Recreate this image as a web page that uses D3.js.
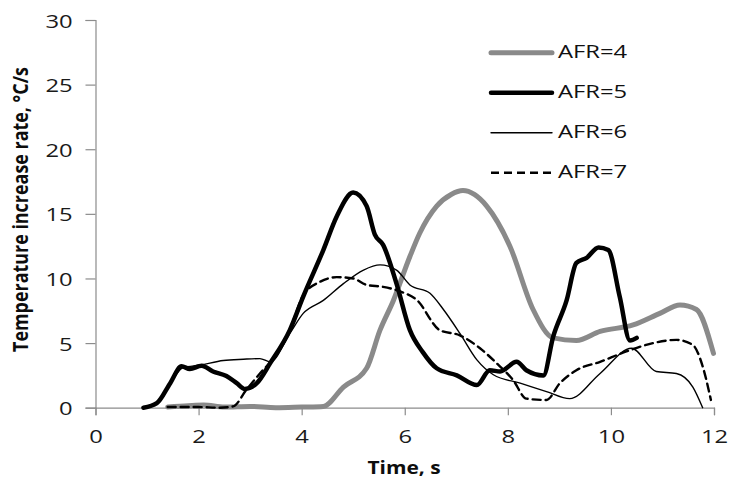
<!DOCTYPE html>
<html>
<head>
<meta charset="utf-8">
<script src="https://cdn.jsdelivr.net/npm/d3@7"></script>
<style>
  html, body { margin: 0; padding: 0; background: #fff; }
  svg { display: block; }
  .tick text { font-family: "Open Sans", sans-serif; font-size: 17.5px; fill: #1a1a1a; }
  .axis-title { font-family: "Open Sans", sans-serif; font-weight: bold; fill: #0d0d0d; }
  .legend text { font-family: "Open Sans", sans-serif; font-size: 17.5px; fill: #111; }
</style>
</head>
<body>
<svg id="chart" width="734" height="484"></svg>
<script>
// Heating rate curves for four air-fuel ratios: [time (s), rate (°C/s)]
const afr4 = [
  [1.4, 0.05], [1.8, 0.15], [2.1, 0.2], [2.5, 0.05], [3.0, 0.1], [3.5, 0.0], [4.0, 0.05], [4.42, 0.1],
  [4.81, 1.6], [5.26, 3.05], [5.52, 6.0], [5.78, 8.3], [6.1, 11.7], [6.29, 13.5], [6.62, 15.6],
  [6.9, 16.5], [7.13, 16.8], [7.35, 16.5], [7.59, 15.6], [8.04, 12.5], [8.49, 7.6], [8.88, 5.4],
  [9.33, 5.2], [9.79, 5.9], [10.43, 6.4], [10.95, 7.3], [11.34, 7.95], [11.66, 7.6], [11.99, 4.2]
];
const afr5 = [
  [0.93, 0.0], [1.19, 0.35], [1.45, 1.9], [1.67, 3.2], [1.83, 3.0], [2.06, 3.25], [2.28, 2.8],
  [2.54, 2.45], [2.74, 1.9], [2.9, 1.45], [3.13, 1.9], [3.39, 3.45], [3.77, 6.0], [4.03, 8.6],
  [4.42, 12.2], [4.68, 14.8], [5.0, 16.65], [5.26, 15.6], [5.42, 13.4], [5.58, 12.6], [5.84, 9.6],
  [6.1, 6.0], [6.35, 4.3], [6.62, 3.05], [7.01, 2.5], [7.4, 1.75], [7.65, 2.9], [7.85, 2.8],
  [8.17, 3.55], [8.36, 2.9], [8.69, 2.5], [8.88, 5.5], [9.14, 8.3], [9.33, 11.2], [9.53, 11.6],
  [9.76, 12.4], [9.95, 12.2], [10.17, 8.6], [10.37, 5.2], [10.5, 5.4]
];
const afr6 = [
  [0.95, 0.0], [1.2, 0.4], [1.45, 1.9], [1.7, 3.1], [2.03, 3.3], [2.48, 3.65], [2.87, 3.75],
  [3.19, 3.8], [3.39, 3.55], [3.77, 5.75], [4.03, 7.3], [4.42, 8.3], [4.81, 9.6], [5.2, 10.65],
  [5.52, 11.05], [5.84, 10.65], [6.1, 9.5], [6.49, 8.85], [6.75, 7.6], [7.07, 5.75], [7.4, 3.7],
  [7.72, 2.55], [8.24, 1.9], [8.75, 1.25], [9.2, 0.7], [9.79, 2.65], [10.4, 4.6], [10.88, 2.8],
  [11.27, 2.65], [11.59, 1.6], [11.78, 0.0]
];
const afr7 = [
  [1.4, 0.05], [2.0, 0.05], [2.4, 0.0], [2.67, 0.1], [2.93, 1.4], [3.19, 2.65], [3.51, 4.1],
  [3.77, 6.0], [4.03, 8.7], [4.36, 9.75], [4.68, 10.1], [5.0, 10.0], [5.26, 9.5], [5.58, 9.35],
  [5.91, 9.0], [6.23, 8.35], [6.68, 6.0], [7.07, 5.6], [7.46, 4.6], [7.78, 3.45], [8.1, 2.15],
  [8.36, 0.7], [8.75, 0.6], [9.01, 1.9], [9.33, 2.9], [9.79, 3.55], [10.3, 4.35], [10.82, 5.0],
  [11.27, 5.25], [11.59, 4.85], [11.78, 3.2], [11.94, 0.6]
];

const seriesNames = ["AFR=4", "AFR=5", "AFR=6", "AFR=7"];
const seriesData = [afr4, afr5, afr6, afr7];
const seriesStyle = [
  { stroke: "#8a8a8a", width: 5, dash: null },
  { stroke: "#000", width: 4.5, dash: null },
  { stroke: "#000", width: 1.4, dash: null },
  { stroke: "#000", width: 2.4, dash: "8,5" }
];

const xTicks = [0, 2, 4, 6, 8, 10, 12];
const yTicks = [0, 5, 10, 15, 20, 25, 30];

const svg = d3.select("#chart");
const plotLeft = 95.5, plotRight = 714, plotTop = 20, plotBottom = 407.7;
const widen = 1.36; // horizontal widening applied to all lettering

const x = d3.scaleLinear().domain([0, 12]).range([plotLeft, plotRight]);
const y = d3.scaleLinear().domain([0, 30]).range([plotBottom, plotTop]);

// Axes
const xAxis = svg.append("g")
  .attr("transform", `translate(0,${plotBottom})`)
  .call(d3.axisBottom(x).tickValues(xTicks).tickSize(7.5).tickFormat(d3.format("d")));
const yAxis = svg.append("g")
  .attr("transform", `translate(${plotLeft},0)`)
  .call(d3.axisLeft(y).tickValues(yTicks).tickSize(10).tickFormat(d3.format("d")));
[xAxis, yAxis].forEach(g => {
  g.select(".domain").attr("stroke", "#8c8c8c").attr("stroke-width", 1.2);
  g.selectAll(".tick line").attr("stroke", "#8c8c8c").attr("stroke-width", 1.2);
});
xAxis.selectAll(".tick text")
  .attr("y", 35.5).attr("dy", 0)
  .attr("transform", `scale(${widen},1)`);
yAxis.selectAll(".tick text")
  .attr("x", -22.8 / widen).attr("dy", 7)
  .attr("transform", `scale(${widen},1)`);

// Axis titles
svg.append("text").attr("class", "axis-title")
  .attr("x", 404).attr("y", 473.5).attr("text-anchor", "middle")
  .style("font-size", "18px")
  .attr("textLength", 73).attr("lengthAdjust", "spacingAndGlyphs")
  .text("Time, s");
svg.append("text").attr("class", "axis-title")
  .attr("transform", `translate(28,209.5) scale(1.3,1) rotate(-90)`)
  .attr("text-anchor", "middle")
  .style("font-size", "16px")
  .attr("textLength", 285).attr("lengthAdjust", "spacingAndGlyphs")
  .text("Temperature increase rate, °C/s");

// Curves
const line = d3.line()
  .x(d => x(d[0]))
  .y(d => y(d[1]))
  .curve(d3.curveMonotoneX);

seriesData.forEach((data, i) => {
  const s = seriesStyle[i];
  svg.append("path")
    .datum(data)
    .attr("fill", "none")
    .attr("stroke", s.stroke)
    .attr("stroke-width", s.width)
    .attr("stroke-linejoin", "round")
    .attr("stroke-linecap", "round")
    .attr("stroke-dasharray", s.dash)
    .attr("d", line);
});

// Legend
const legend = svg.append("g").attr("class", "legend");
seriesNames.forEach((name, i) => {
  const s = seriesStyle[i];
  const ly = 52.7 + i * 40;
  legend.append("line")
    .attr("x1", 491).attr("x2", 552).attr("y1", ly).attr("y2", ly)
    .attr("stroke", s.stroke).attr("stroke-width", s.width)
    .attr("stroke-linecap", s.dash ? "butt" : "round")
    .attr("stroke-dasharray", s.dash);
  legend.append("text")
    .attr("transform", `translate(558,${ly + 5.5}) scale(${widen},1)`)
    .text(name);
});
</script>
</body>
</html>
